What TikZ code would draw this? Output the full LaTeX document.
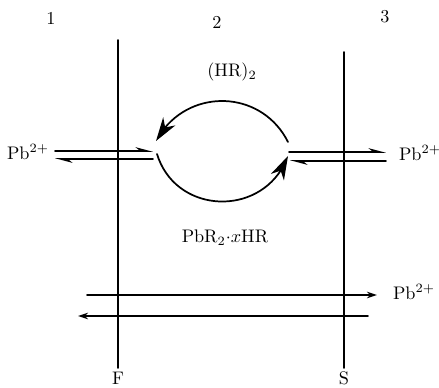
\documentclass[tikz,border=0pt]{standalone}
\usetikzlibrary{arrows.meta,bending}

\begin{document}
\begin{tikzpicture}[x=0.55pt,y=-0.55pt,line cap=round,line join=round,font=\normalsize,
  wall/.style={line width=0.85pt},
  flux/.style={line width=0.85pt,-{Stealth[length=5.5pt,width=3.6pt]}},
  halfflux/.style={line width=0.85pt,-{Stealth[harpoon,length=8pt,width=4.2pt]}},
  turnflux/.style={line width=0.95pt,-{Stealth[length=13pt,width=8pt,inset=4pt]}}]

\useasboundingbox (0,0) rectangle (439,387);

% phase numbers
\node (one)   at (51,18)  {1};
\node (two)   at (217,22) {2};
\node (three) at (385,17) {3};

% interfaces
\coordinate (Ftop) at (118,40);
\coordinate (Fbot) at (118,368);
\coordinate (Stop) at (344,52);
\coordinate (Sbot) at (344,368);
\draw[wall] (Ftop) -- (Fbot);
\draw[wall] (Stop) -- (Sbot);
\node (F) at (118,378) {F};
\node (S) at (344,378) {S};

% feed side
\node (pbfeed) at (28,152) {Pb$^{2+}$};
\coordinate (feedA) at (55,151);
\coordinate (feedB) at (153,151);
\coordinate (feedC) at (153,159);
\coordinate (feedD) at (55,159);
\draw[halfflux] (feedA) -- (feedB);
\draw[halfflux] (feedC) -- (feedD);

% strip side
\node (pbstrip) at (420,153) {Pb$^{2+}$};
\coordinate (stripA) at (289,152);
\coordinate (stripB) at (386,152);
\coordinate (stripC) at (386,161);
\coordinate (stripD) at (290,161);
\draw[halfflux] (stripA) -- (stripB);
\draw[halfflux] (stripC) -- (stripD);

% carrier cycle
\node (carrier) at (232,72)  {$(\mathrm{HR})_2$};
\node (complex) at (225,238) {$\mathrm{PbR}_2{\cdot}x\mathrm{HR}$};
\coordinate (arcR)  at (288,142);
\coordinate (arcL)  at (156,141);
\coordinate (arcL2) at (157,154);
\coordinate (arcR2) at (288,156);
\draw[turnflux] (arcR) .. controls (261,88) and (185,87) .. (arcL);
\draw[turnflux] (arcL2) .. controls (176,216) and (265,218) .. (arcR2);

% leakage across membrane
\node (pbleak) at (414,292) {Pb$^{2+}$};
\coordinate (leakA) at (87,295);
\coordinate (leakB) at (377,295);
\coordinate (leakC) at (368,316);
\coordinate (leakD) at (78,316);
\draw[flux] (leakA) -- (leakB);
\draw[flux] (leakC) -- (leakD);
\end{tikzpicture}
\end{document}
